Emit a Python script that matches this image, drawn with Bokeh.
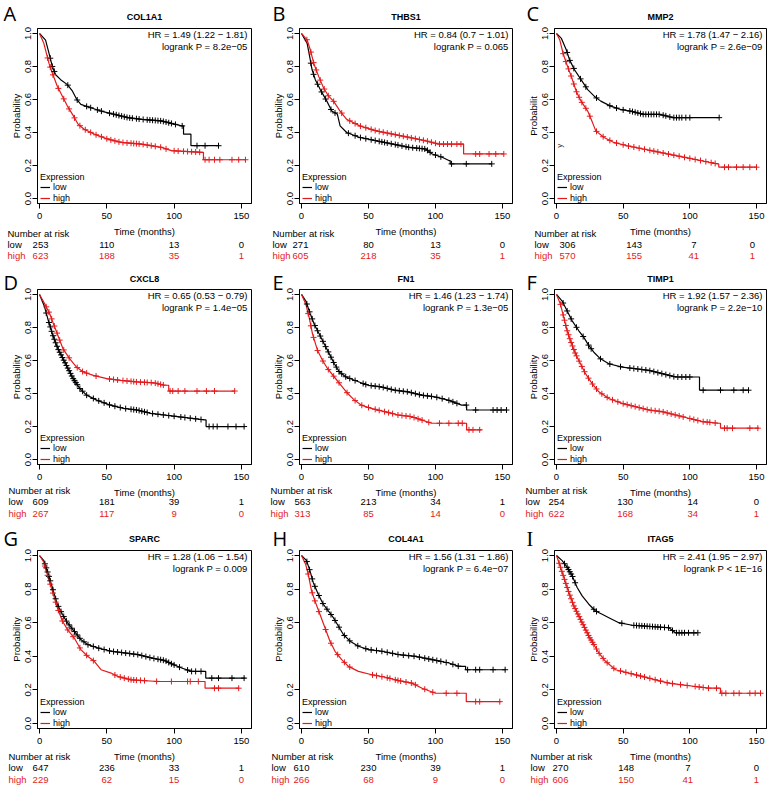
import numpy as np
from math import pi
from bokeh.plotting import figure
from bokeh.layouts import gridplot
from bokeh.models import (Label, Legend, LegendItem, FixedTicker, Range1d, PrintfTickFormatter)
from bokeh.core.properties import value
from bokeh.embed import file_html
from bokeh.resources import INLINE

# ---------------- data ----------------
genes = ["COL1A1", "THBS1", "MMP2", "CXCL8", "FN1", "TIMP1", "SPARC", "COL4A1", "ITAG5"]
letters = ["A", "B", "C", "D", "E", "F", "G", "H", "I"]
hr_texts = ["HR = 1.49 (1.22 \u2212 1.81)", "HR = 0.84 (0.7 \u2212 1.01)", "HR = 1.78 (1.47 \u2212 2.16)",
            "HR = 0.65 (0.53 \u2212 0.79)", "HR = 1.46 (1.23 \u2212 1.74)", "HR = 1.92 (1.57 \u2212 2.36)",
            "HR = 1.28 (1.06 \u2212 1.54)", "HR = 1.56 (1.31 \u2212 1.86)", "HR = 2.41 (1.95 \u2212 2.97)"]
p_texts = ["logrank P = 8.2e\u221205", "logrank P = 0.065", "logrank P = 2.6e\u221209",
           "logrank P = 1.4e\u221205", "logrank P = 1.3e\u221205", "logrank P = 2.2e\u221210",
           "logrank P = 0.009", "logrank P = 6.4e\u221207", "logrank P < 1E\u221216"]
risk_times = [0, 50, 100, 150]
risk_low = [[253, 110, 13, 0], [271, 80, 13, 0], [306, 143, 7, 0],
            [609, 181, 39, 1], [563, 213, 34, 1], [254, 130, 14, 0],
            [647, 236, 33, 1], [610, 230, 39, 1], [270, 148, 7, 0]]
risk_high = [[623, 188, 35, 1], [605, 218, 35, 1], [570, 155, 41, 1],
             [267, 117, 9, 0], [313, 85, 14, 0], [622, 168, 34, 1],
             [229, 62, 15, 0], [266, 68, 9, 0], [606, 150, 41, 1]]
x_ticks = [0, 50, 100, 150]
y_ticks = [0.0, 0.2, 0.4, 0.6, 0.8, 1.0]
y_ticks_h = [0.0, 0.2, 0.6, 0.8, 1.0]

# survival curves (time, probability) and censoring times
a_low_t = [0, 4.5, 7.7, 9.5, 12, 15.7, 20.7, 24.5, 27.7, 30.7, 38, 45.7, 55.6, 65.6, 75.6, 90.6, 105.6, 107, 107, 112.5, 112.5, 133]
a_low_s = [1.0, 0.96, 0.86, 0.80, 0.75, 0.72, 0.69, 0.65, 0.60, 0.57, 0.55, 0.53, 0.51, 0.49, 0.48, 0.47, 0.44, 0.44, 0.39, 0.39, 0.32, 0.32]
a_low_c = [8, 9.5, 11, 21, 28, 35, 38, 43, 46, 52, 55, 57, 59, 61, 63, 65, 67, 69, 72, 74, 77, 80, 82, 84, 86, 88, 90, 92, 94, 96, 98, 101, 106, 117, 123, 133]
a_high_t = [0, 3.2, 7, 9.5, 13.2, 17, 20.7, 24.5, 28.7, 33.2, 40.7, 50.7, 60.6, 75.6, 90.6, 98, 120.5, 121.8, 121.8, 153]
a_high_s = [1.0, 0.94, 0.82, 0.76, 0.68, 0.62, 0.56, 0.51, 0.45, 0.42, 0.39, 0.36, 0.34, 0.33, 0.31, 0.29, 0.28, 0.28, 0.235, 0.235]
a_high_c = [6, 8, 10, 14, 18, 22, 26, 30, 34, 38, 42, 46, 50, 53, 56, 59, 62, 65, 68, 70, 72, 74, 77, 80, 83, 86, 90, 94, 100, 103, 107, 110, 113, 116, 119, 123, 126, 130, 134, 143, 148, 153]

b_low_t = [0, 4.2, 6.1, 7.9, 10.3, 14, 18.9, 22.6, 26.8, 28.8, 33.7, 43.5, 55.8, 68.1, 80.4, 92.7, 97.6, 105, 110, 111, 111, 142]
b_low_s = [1.0, 0.94, 0.86, 0.78, 0.72, 0.66, 0.59, 0.53, 0.51, 0.44, 0.40, 0.37, 0.35, 0.33, 0.31, 0.30, 0.27, 0.25, 0.23, 0.23, 0.21, 0.21]
b_low_c = [7, 9, 12, 15, 18, 22, 25, 35, 40, 44, 48, 52, 55, 58, 60, 62, 64, 67, 70, 72, 75, 78, 80, 83, 86, 88, 90, 92, 94, 96, 100, 104, 112, 123, 142]
b_high_t = [0, 4.2, 6.6, 9.1, 12.8, 16.5, 20.2, 23.9, 28.8, 33.7, 43.5, 55.8, 68.1, 80.4, 92.7, 102.5, 121, 121, 151]
b_high_s = [1.0, 0.96, 0.90, 0.82, 0.74, 0.67, 0.62, 0.59, 0.53, 0.48, 0.44, 0.41, 0.39, 0.37, 0.35, 0.33, 0.33, 0.27, 0.27]
b_high_c = [4, 7, 9, 11, 14, 17, 20, 24, 30, 36, 40, 44, 48, 52, 55, 58, 61, 64, 67, 70, 73, 76, 79, 82, 85, 88, 91, 94, 97, 100, 103, 106, 109, 112, 116, 119, 130, 133, 140, 145, 151]

c_low_t = [0, 3.7, 7.4, 9.8, 13.5, 18.4, 23.4, 28.3, 33.2, 40.6, 47.9, 55.3, 65.2, 77.5, 87.3, 121.7]
c_low_s = [1.0, 0.97, 0.90, 0.84, 0.78, 0.72, 0.66, 0.62, 0.59, 0.56, 0.54, 0.53, 0.51, 0.51, 0.49, 0.49]
c_low_c = [8, 10, 13, 18, 22, 30, 40, 45, 50, 55, 57, 59, 61, 63, 65, 67, 69, 71, 73, 75, 77, 80, 82, 85, 88, 90, 92, 94, 97, 100, 122]
c_high_t = [0, 2.5, 4.9, 7.4, 11.1, 14.8, 18.4, 23.4, 27, 29.5, 35.7, 43, 52.9, 65.2, 77.5, 89.7, 102, 114.3, 120.5, 121.7, 121.7, 150]
c_high_s = [1.0, 0.96, 0.88, 0.82, 0.74, 0.65, 0.59, 0.53, 0.46, 0.41, 0.37, 0.34, 0.32, 0.30, 0.28, 0.26, 0.24, 0.22, 0.21, 0.21, 0.19, 0.19]
c_high_c = [5, 7, 9, 11, 13, 15, 17, 19, 22, 25, 30, 35, 40, 45, 50, 54, 58, 62, 66, 70, 73, 76, 80, 84, 88, 92, 96, 100, 104, 108, 112, 116, 119, 126, 129, 135, 140, 145, 150]

d_low_t = [0, 3.75, 6.25, 10, 13.75, 17.5, 21.25, 25, 30, 35, 42.5, 52.5, 62.5, 72.5, 82.5, 92.5, 102.5, 112.5, 122.5, 123.75, 123.75, 152.5]
d_low_s = [1.0, 0.925, 0.85, 0.75, 0.67, 0.61, 0.55, 0.49, 0.43, 0.39, 0.36, 0.33, 0.31, 0.30, 0.28, 0.27, 0.26, 0.25, 0.24, 0.24, 0.20, 0.20]
d_low_c = [5, 7, 8, 9, 10, 11, 12, 13, 14, 15, 16, 17, 18, 19, 20, 21, 22, 23, 24, 25, 26, 27, 28, 30, 32, 35, 40, 44, 48, 52, 56, 60, 64, 68, 70, 72, 74, 76, 78, 80, 84, 88, 92, 96, 100, 105, 108, 112, 116, 120, 126, 129, 132, 140, 146, 152]
d_high_t = [0, 3.75, 7.5, 10, 13.75, 17.5, 22.5, 27.5, 32.5, 40, 50, 60, 72.5, 85, 92.5, 96, 96, 145]
d_high_s = [1.0, 0.945, 0.885, 0.83, 0.75, 0.67, 0.61, 0.56, 0.53, 0.51, 0.49, 0.48, 0.47, 0.465, 0.45, 0.45, 0.415, 0.415]
d_high_c = [5, 7, 9, 11, 13, 15, 18, 22, 28, 32, 35, 42, 52, 55, 58, 62, 65, 68, 70, 72, 75, 78, 80, 83, 86, 88, 90, 92, 97, 99, 103, 108, 117, 124, 130, 145]

e_low_t = [0, 3.25, 5.75, 9.5, 13.25, 17, 20.75, 24.5, 28.25, 33.25, 39.5, 49.5, 59.5, 69.5, 79.5, 89.5, 99.5, 109.5, 119.5, 123.25, 123.25, 153.25]
e_low_s = [1.0, 0.96, 0.90, 0.82, 0.76, 0.70, 0.64, 0.58, 0.53, 0.50, 0.48, 0.45, 0.44, 0.42, 0.41, 0.39, 0.38, 0.36, 0.33, 0.33, 0.30, 0.30]
e_low_c = [4, 6, 8, 10, 12, 14, 16, 18, 20, 22, 24, 26, 28, 30, 33, 36, 40, 46, 48, 52, 55, 58, 61, 64, 67, 70, 73, 76, 79, 82, 85, 88, 91, 94, 97, 101, 105, 110, 113, 116, 123, 130, 143, 146, 149, 153]
e_high_t = [0, 3.25, 5.75, 8.25, 12, 15.75, 19.5, 24.5, 29.5, 34.5, 39.5, 44.5, 52, 62, 72, 82, 89.5, 97, 123.25, 123.25, 134.5]
e_high_s = [1.0, 0.94, 0.86, 0.76, 0.66, 0.60, 0.55, 0.50, 0.45, 0.40, 0.36, 0.33, 0.31, 0.29, 0.27, 0.26, 0.24, 0.22, 0.22, 0.18, 0.18]
e_high_c = [5, 7, 9, 12, 16, 20, 24, 28, 34, 40, 45, 50, 55, 58, 62, 65, 68, 72, 75, 78, 81, 84, 87, 90, 95, 103, 110, 117, 120, 125, 128, 133]

f_low_t = [0, 4.25, 8, 11.75, 16.75, 20.5, 24.25, 28, 33, 39.25, 49.25, 59.25, 69.25, 79.25, 89.25, 107.25, 107.25, 144.25]
f_low_s = [1.0, 0.96, 0.90, 0.84, 0.78, 0.74, 0.69, 0.65, 0.61, 0.58, 0.56, 0.55, 0.54, 0.52, 0.50, 0.50, 0.42, 0.42]
f_low_c = [5, 8, 11, 15, 20, 24, 26, 33, 40, 48, 55, 58, 61, 64, 67, 70, 73, 76, 79, 82, 85, 88, 91, 94, 97, 100, 110, 123, 133, 140, 144]
f_high_t = [0, 3, 5.5, 8, 10.5, 14.25, 18, 21.75, 26.75, 31.75, 39.25, 49.25, 59.25, 69.25, 79.25, 89.25, 99.25, 109.25, 121, 123, 123, 151.75]
f_high_s = [1.0, 0.94, 0.86, 0.78, 0.72, 0.64, 0.58, 0.52, 0.46, 0.41, 0.37, 0.34, 0.32, 0.30, 0.29, 0.27, 0.25, 0.23, 0.22, 0.22, 0.19, 0.19]
f_high_c = [3, 5, 6, 7, 8, 9, 10, 11, 12, 13, 14, 15, 17, 19, 21, 24, 27, 30, 34, 38, 42, 46, 50, 53, 56, 59, 62, 65, 68, 71, 74, 77, 80, 83, 86, 89, 92, 95, 100, 103, 106, 110, 113, 115, 119, 126, 128, 132, 145, 151]

g_low_t = [0, 3.2, 5.7, 9.5, 13.2, 17, 20.7, 25.7, 30.7, 35.7, 43.2, 53.2, 63.1, 73.1, 83.1, 93.1, 98.1, 105.6, 113, 123.5, 123.5, 153]
g_low_s = [1.0, 0.97, 0.91, 0.81, 0.71, 0.65, 0.60, 0.55, 0.50, 0.47, 0.45, 0.43, 0.42, 0.41, 0.39, 0.375, 0.355, 0.33, 0.31, 0.31, 0.27, 0.27]
g_low_c = [4, 5, 6, 7, 8, 10, 12, 14, 16, 18, 20, 22, 24, 26, 28, 30, 33, 36, 40, 44, 48, 52, 55, 58, 61, 64, 67, 70, 73, 76, 79, 82, 85, 88, 90, 92, 94, 96, 98, 100, 104, 110, 113, 116, 120, 128, 133, 143, 152]
g_high_t = [0, 3.2, 5.7, 9.5, 13.2, 17, 20.7, 25.7, 30.7, 35.7, 40.7, 45.7, 53.2, 58.1, 68.1, 88.1, 123, 123, 148]
g_high_s = [1.0, 0.96, 0.89, 0.79, 0.69, 0.61, 0.56, 0.51, 0.44, 0.40, 0.37, 0.32, 0.30, 0.28, 0.26, 0.25, 0.25, 0.21, 0.21]
g_high_c = [4, 6, 8, 10, 12, 14, 17, 21, 25, 30, 35, 40, 56, 60, 63, 66, 68, 70, 72, 75, 78, 87, 98, 110, 112, 118, 130, 133, 148]

h_low_t = [0, 3.75, 6.25, 8.75, 12.5, 16.25, 20, 23.75, 27.5, 31.25, 36.25, 42.5, 50, 60, 72.5, 85, 97.5, 110, 117.5, 122.5, 122.5, 152.5]
h_low_s = [1.0, 0.97, 0.91, 0.84, 0.77, 0.71, 0.67, 0.63, 0.58, 0.53, 0.49, 0.46, 0.44, 0.43, 0.41, 0.40, 0.38, 0.36, 0.34, 0.34, 0.32, 0.32]
h_low_c = [4, 6, 8, 10, 13, 16, 19, 22, 25, 28, 32, 36, 42, 48, 52, 56, 60, 64, 68, 72, 76, 80, 84, 88, 92, 95, 98, 101, 104, 108, 113, 117, 124, 130, 133, 143, 152]
h_high_t = [0, 3, 5, 7.5, 10, 13.75, 17.5, 21.25, 25, 30, 35, 42.5, 52.5, 62.5, 72.5, 82.5, 90, 100, 123, 123, 148.75]
h_high_s = [1.0, 0.95, 0.89, 0.79, 0.73, 0.65, 0.57, 0.49, 0.43, 0.38, 0.34, 0.31, 0.29, 0.275, 0.255, 0.24, 0.21, 0.18, 0.18, 0.13, 0.13]
h_high_c = [5, 8, 10, 13, 18, 22, 27, 32, 36, 53, 56, 60, 64, 66, 70, 72, 74, 78, 82, 85, 92, 98, 108, 116, 130, 133, 148]

i_low_t = [0, 4.25, 8, 11.75, 15.5, 19.25, 24.25, 29.25, 34.25, 39.25, 46.75, 56.75, 84.25, 89.25, 105.5]
i_low_s = [1.0, 0.97, 0.93, 0.88, 0.81, 0.76, 0.71, 0.67, 0.65, 0.63, 0.60, 0.585, 0.57, 0.54, 0.54]
i_low_c = [6, 8, 9, 10, 11, 12, 14, 28, 30, 49, 58, 60, 62, 64, 66, 68, 70, 72, 74, 76, 78, 81, 84, 87, 90, 92, 94, 96, 99, 103, 106]
i_high_t = [0, 1.75, 4.25, 6.75, 9.25, 13, 16.75, 20.5, 24.25, 28, 31.75, 36.75, 44.25, 54.25, 64.25, 74.25, 84.25, 94.25, 104.25, 114.25, 123, 123, 153]
i_high_s = [1.0, 0.96, 0.90, 0.84, 0.78, 0.70, 0.64, 0.58, 0.52, 0.47, 0.42, 0.37, 0.32, 0.30, 0.28, 0.26, 0.24, 0.23, 0.22, 0.21, 0.21, 0.18, 0.18]
i_high_c = [2, 3, 4, 5, 6, 7, 8, 9, 10, 11, 12, 13, 14, 15, 16, 17, 18, 19, 20, 21, 22, 23, 24, 25, 26, 27, 28, 30, 32, 35, 38, 43, 48, 52, 56, 60, 63, 66, 70, 74, 78, 83, 87, 93, 98, 104, 107, 110, 114, 120, 124, 127, 133, 137, 145, 149, 153]

curves = [
    (a_low_t, a_low_s, a_low_c, a_high_t, a_high_s, a_high_c),
    (b_low_t, b_low_s, b_low_c, b_high_t, b_high_s, b_high_c),
    (c_low_t, c_low_s, c_low_c, c_high_t, c_high_s, c_high_c),
    (d_low_t, d_low_s, d_low_c, d_high_t, d_high_s, d_high_c),
    (e_low_t, e_low_s, e_low_c, e_high_t, e_high_s, e_high_c),
    (f_low_t, f_low_s, f_low_c, f_high_t, f_high_s, f_high_c),
    (g_low_t, g_low_s, g_low_c, g_high_t, g_high_s, g_high_c),
    (h_low_t, h_low_s, h_low_c, h_high_t, h_high_s, h_high_c),
    (i_low_t, i_low_s, i_low_c, i_high_t, i_high_s, i_high_c),
]

# ---------------- style / layout ----------------
BLACK = "#000000"
RED = "#e31a1c"
FONT = "Liberation Sans"
FS = "9.5px"
LFS = "9px"
col_w = [257, 257, 257]
col_L = [37, 42, 40]
col_R = [6, 2, 5]
row_h = [265, 260, 262]
row_T = [28, 20, 25]
row_B = [62, 61, 59]
title_off = [14, 12, 13]
xlab_off = [4, 4, 4]
risk_y = [[30, 41, 52], [26, 37, 49], [28, 39, 51]]
risk_dx = [-30, -27, -20, -29, -29, -29, -29, -28, -24]
risk_num_dx = [[1, 0, 0, 0], [-1, 0, 0, 0], [11, 11, 4, -4],
               [1, 0, 0, 0], [1, 0, 0, 0], [0, 2, 3, 0],
               [1, 0, 0, 0], [0, 0, 0, 0], [4, 3, -2, 0]]
letter_dx = [-34, -27, -28]
letter_dy = [15, 7, 12]
XR = (-1.5, 157.5)
YR = (-0.03, 1.03)

figs = []
for k in range(9):
    r, c = divmod(k, 3)
    p = figure(width=col_w[c], height=row_h[r], x_range=Range1d(*XR), y_range=Range1d(*YR),
               output_backend="svg", toolbar_location=None,
               min_border_left=col_L[c], min_border_right=col_R[c],
               min_border_top=row_T[r], min_border_bottom=row_B[r], title=genes[k])
    p.title.text_font = FONT
    p.title.text_font_size = "9px"
    p.title.text_font_style = "bold"
    p.title.text_color = BLACK
    p.title.align = "center"
    p.title.standoff = title_off[r]
    p.xgrid.visible = False
    p.ygrid.visible = False
    p.outline_line_color = BLACK
    p.outline_line_alpha = 1
    for ax in (p.xaxis, p.yaxis):
        ax.axis_line_color = BLACK
        ax.major_tick_line_color = BLACK
        ax.minor_tick_line_color = None
        ax.major_tick_in = 0
        ax.major_tick_out = 5
        ax.major_label_text_font = FONT
        ax.major_label_text_font_size = FS
        ax.major_label_text_color = BLACK
        ax.axis_label_text_font = FONT
        ax.axis_label_text_font_size = FS
        ax.axis_label_text_font_style = "normal"
        ax.axis_label_text_color = BLACK
    p.xaxis.ticker = FixedTicker(ticks=x_ticks)
    p.xaxis.axis_label = "Time (months)"
    p.xaxis.major_label_standoff = 4
    p.xaxis.axis_label_standoff = xlab_off[r]
    p.yaxis.ticker = FixedTicker(ticks=(y_ticks_h if letters[k] == "H" else y_ticks))
    p.yaxis.formatter = PrintfTickFormatter(format="%.1f")
    p.yaxis.major_label_orientation = "vertical"
    p.yaxis.major_label_standoff = 1
    p.yaxis.axis_label_standoff = 1
    p.yaxis.axis_label = "Probabilit" if letters[k] == "C" else "Probability"

    lt, ls, lc, ht, hs, hc = curves[k]
    rl = p.line(lt, ls, line_color=BLACK, line_width=1.2)
    rh = p.line(ht, hs, line_color=RED, line_width=1.2)
    p.scatter(lc, np.interp(lc, lt, ls), marker="cross", size=6, line_color=BLACK, line_width=1)
    p.scatter(hc, np.interp(hc, ht, hs), marker="cross", size=6, line_color=RED, line_width=1)

    leg_style = dict(orientation="vertical", border_line_alpha=0, background_fill_alpha=0, padding=0,
                     margin=0, spacing=0, label_height=6, glyph_height=6, glyph_width=10, label_standoff=3,
                     label_text_font=FONT, label_text_font_size=LFS, label_text_color=BLACK,
                     title_text_font=FONT, title_text_font_size=LFS, title_text_color=BLACK,
                     title_text_font_style="normal", title_standoff=-2)
    p.add_layout(Legend(items=[LegendItem(label="low", renderers=[rl])], title="Expression",
                        location=(3, 11), **leg_style))
    p.add_layout(Legend(items=[LegendItem(label="high", renderers=[rh])], location=(3, 0), **leg_style))

    # HR / logrank text
    p.add_layout(Label(x=XR[1], y=YR[1], x_offset=-4, y_offset=-6, text=hr_texts[k], text_align="right",
                       text_baseline="middle", text_font=FONT, text_font_size=FS, text_color=BLACK))
    p.add_layout(Label(x=XR[1], y=YR[1], x_offset=-4, y_offset=-18, text=p_texts[k], text_align="right",
                       text_baseline="middle", text_font=FONT, text_font_size=FS, text_color=BLACK))
    if letters[k] == "C":
        p.add_layout(Label(x=2.0, y=0.32, text="y", angle=pi / 2, text_align="center", text_baseline="middle",
                           text_font=FONT, text_font_size="8px", text_color="#333333"))

    # panel letter (overlay level so it is drawn outside the frame)
    serif = letters[k] == "I"
    p.text(x=[XR[0]], y=[YR[1]], text=[letters[k]], x_offset=letter_dx[c], y_offset=-letter_dy[r],
           text_align="left", text_baseline="middle",
           text_font=value("Liberation Serif" if serif else "Open Sans"), text_font_size=value("20px"),
           text_color=BLACK, level="overlay")

    # number at risk table
    ry = risk_y[r]
    p.text(x=[XR[0]] * 3, y=[YR[0]] * 3, text=["Number at risk", "low", "high"],
           x_offset=risk_dx[k], y_offset=ry, text_align="left", text_baseline="middle",
           text_font=value(FONT), text_font_size=value(FS), text_color=[BLACK, BLACK, RED], level="overlay")
    p.text(x=risk_times, y=[YR[0]] * 4, text=[str(v) for v in risk_low[k]], x_offset=risk_num_dx[k],
           y_offset=ry[1], text_align="center", text_baseline="middle", text_font=value(FONT),
           text_font_size=value(FS), text_color=BLACK, level="overlay")
    p.text(x=risk_times, y=[YR[0]] * 4, text=[str(v) for v in risk_high[k]], x_offset=risk_num_dx[k],
           y_offset=ry[2], text_align="center", text_baseline="middle", text_font=value(FONT),
           text_font_size=value(FS), text_color=RED, level="overlay")
    figs.append(p)

grid = gridplot([figs[0:3], figs[3:6], figs[6:9]], toolbar_location=None)
open("out.html", "w").write(file_html(grid, INLINE))
